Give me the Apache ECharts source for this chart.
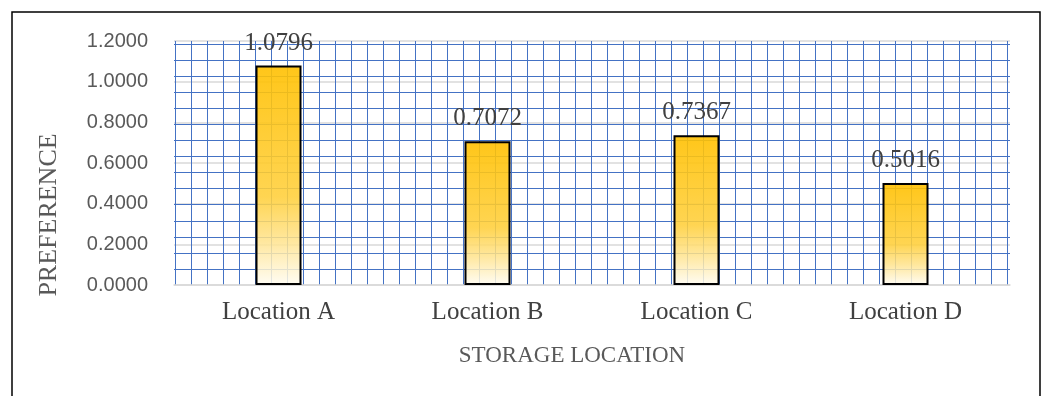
<!DOCTYPE html>
<html>
<head>
<meta charset="utf-8">
<script src="https://cdn.jsdelivr.net/npm/echarts@6/dist/echarts.min.js"></script>
<style>
  html, body { margin: 0; padding: 0; background: #ffffff; }
  #chart { width: 1048px; height: 396px; }
</style>
</head>
<body>
<div id="chart"></div>
<script>
// Storage locations and their preference scores
const categories = ['Location A', 'Location B', 'Location C', 'Location D'];
const preference = [1.0796, 0.7072, 0.7367, 0.5016];

// Value axis range and step
const yMin = 0;
const yMax = 1.2;
const yStep = 0.2;

const xTitle = 'STORAGE LOCATION';
const yTitle = 'PREFERENCE';

// Plot-area pattern: a fine blue grid drawn behind the bars
const patternCols = 52;
const patternRows = 14;
const patternColor = '#4472c4';

const chart = echarts.init(document.getElementById('chart'), null, { renderer: 'canvas' });

const serif = '"Liberation Serif", "Times New Roman", serif';
const sans = '"Liberation Sans", Arial, sans-serif';

chart.setOption({
  animation: false,
  backgroundColor: '#ffffff',
  grid: [
    { left: 174, right: 38, top: 41, bottom: 111 },   // data
    { left: 175, right: 41, top: 41, bottom: 111 },   // pattern columns
    { left: 174, right: 38, top: 44, bottom: 127 }    // pattern rows
  ],
  xAxis: [
    {
      type: 'category', gridIndex: 0, data: categories, z: 3,
      axisLine: { show: true, lineStyle: { color: '#d9d9d9', width: 1.5 } },
      axisTick: { show: false },
      axisLabel: { fontFamily: serif, fontSize: 25, color: '#404040', margin: 15 },
      splitLine: { show: false }
    },
    {
      type: 'value', gridIndex: 1, min: 0, max: patternCols, interval: 1, z: 1,
      axisLine: { show: false }, axisTick: { show: false }, axisLabel: { show: false },
      splitLine: { show: true, lineStyle: { color: patternColor, width: 1 } }
    },
    {
      type: 'value', gridIndex: 2, min: 0, max: 1, show: false,
      splitLine: { show: false }
    }
  ],
  yAxis: [
    {
      type: 'value', gridIndex: 0, min: yMin, max: yMax, interval: yStep, z: 0,
      axisLine: { show: false }, axisTick: { show: false },
      axisLabel: {
        fontFamily: sans, fontSize: 20, color: '#595959', margin: 26,
        formatter: v => v.toFixed(4)
      },
      splitLine: { show: true, lineStyle: { color: '#d9d9d9', width: 1.5 } }
    },
    {
      type: 'value', gridIndex: 1, min: 0, max: 1, show: false,
      splitLine: { show: false }
    },
    {
      type: 'value', gridIndex: 2, min: 0, max: patternRows, interval: 1, z: 1,
      axisLine: { show: false }, axisTick: { show: false }, axisLabel: { show: false },
      splitLine: { show: true, lineStyle: { color: patternColor, width: 1 } }
    }
  ],
  series: [
    {
      type: 'bar',
      xAxisIndex: 0,
      yAxisIndex: 0,
      data: preference,
      barWidth: 46,
      z: 5,
      itemStyle: {
        color: {
          type: 'linear', x: 0, y: 0, x2: 0, y2: 1,
          colorStops: [
            { offset: 0, color: 'rgba(255,192,0,0.9)' },
            { offset: 0.6, color: 'rgba(255,207,58,0.88)' },
            { offset: 0.8, color: 'rgba(255,227,140,0.85)' },
            { offset: 1, color: 'rgba(255,252,242,0.85)' }
          ]
        },
        borderColor: '#000000',
        borderWidth: 2
      },
      label: {
        show: true,
        position: 'top',
        distance: 10,
        fontFamily: serif,
        fontSize: 25,
        color: '#404040',
        formatter: p => p.value.toFixed(4)
      }
    }
  ],
  graphic: [
    {
      type: 'rect', silent: true, z: 100,
      shape: { x: 12, y: 12, width: 1028, height: 400 },
      style: { fill: 'none', stroke: '#000000', lineWidth: 1.5 }
    },
    {
      type: 'text', silent: true, z: 100,
      x: 49, y: 215, rotation: Math.PI / 2,
      style: {
        text: yTitle, fontFamily: serif, fontSize: 26, fill: '#595959',
        align: 'center', verticalAlign: 'middle'
      }
    },
    {
      type: 'text', silent: true, z: 100,
      x: 572, y: 356,
      style: {
        text: xTitle, fontFamily: serif, fontSize: 23, fill: '#595959',
        align: 'center', verticalAlign: 'middle'
      }
    }
  ]
});
</script>
</body>
</html>
